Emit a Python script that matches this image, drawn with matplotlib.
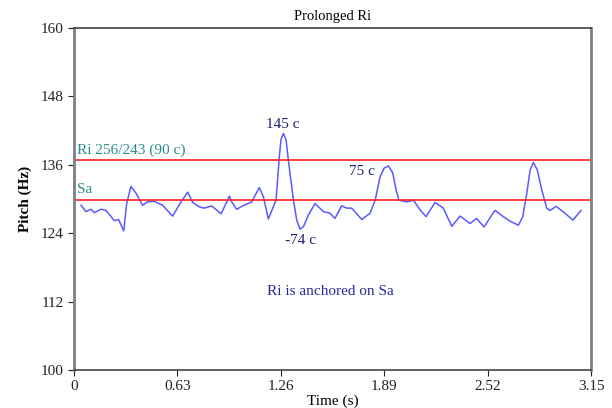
import matplotlib
matplotlib.use("Agg")
import matplotlib.pyplot as plt

# pitch contour (time in s, pitch in Hz)
time_s = [0.043, 0.073, 0.104, 0.124, 0.165, 0.195, 0.246, 0.272, 0.303, 0.321,
          0.347, 0.378, 0.418, 0.449, 0.489, 0.54, 0.601, 0.652, 0.693, 0.723,
          0.764, 0.794, 0.839, 0.896, 0.926, 0.947, 0.961, 0.991, 1.028, 1.083,
          1.129, 1.154, 1.184, 1.231, 1.251, 1.261, 1.276, 1.292, 1.306, 1.337,
          1.357, 1.377, 1.399, 1.428, 1.469, 1.519, 1.56, 1.59, 1.631, 1.662,
          1.692, 1.753, 1.804, 1.835, 1.865, 1.889, 1.915, 1.942, 1.962, 1.98,
          2.027, 2.068, 2.108, 2.145, 2.2, 2.25, 2.302, 2.352, 2.413, 2.453,
          2.498, 2.565, 2.616, 2.657, 2.708, 2.734, 2.759, 2.779, 2.799, 2.823,
          2.85, 2.88, 2.9, 2.938, 2.983, 3.04, 3.089]
pitch_hz = [128.9, 127.8, 128.2, 127.6, 128.2, 128.0, 126.2, 126.4, 124.4, 129.2,
            132.2, 131.0, 128.9, 129.5, 129.6, 128.9, 127.0, 129.5, 131.2, 129.4,
            128.6, 128.4, 128.8, 127.4, 129.2, 130.5, 129.5, 128.2, 128.8, 129.5,
            132.0, 130.4, 126.5, 129.8, 137.4, 140.4, 141.5, 140.4, 136.8, 129.8,
            126.3, 124.7, 125.2, 127.2, 129.2, 127.8, 127.5, 126.6, 128.8, 128.4,
            128.4, 126.4, 127.5, 129.8, 133.9, 135.4, 135.8, 134.6, 131.6, 129.8,
            129.5, 129.8, 128.1, 126.9, 129.4, 128.4, 125.2, 127.0, 125.7, 126.6,
            125.1, 128.0, 126.9, 126.1, 125.4, 126.9, 131.0, 135.1, 136.4, 135.1,
            131.6, 128.4, 128.0, 128.7, 127.7, 126.3, 128.0]

sa_hz = 129.9
ri_hz = sa_hz * 256 / 243

x_ticks = [0, 0.63, 1.26, 1.89, 2.52, 3.15]
x_labels = ["0", "0.63", "1.26", "1.89", "2.52", "3.15"]
y_ticks = [100, 112, 124, 136, 148, 160]

plt.rcParams["font.family"] = ["Liberation Serif", "DejaVu Serif"]

fig = plt.figure(figsize=(6.12, 4.08), dpi=100)
ax = fig.add_axes([0.1209, 0.0931, 0.8448, 0.8383])

ax.plot(time_s, pitch_hz, color="#5a5aff", lw=1.1, solid_joinstyle="round")
ax.axhline(ri_hz, color="#ff2020", lw=1.2)
ax.axhline(sa_hz, color="#ff2020", lw=1.2)

ax.set_xlim(0, 3.15)
ax.set_ylim(100, 160)
ax.set_xticks(x_ticks)
ax.set_xticklabels(x_labels)
ax.set_yticks(y_ticks)
ax.tick_params(direction="out", length=4, labelsize=11, colors="#222222")

for side in ["left", "right"]:
    ax.spines[side].set_color("#808080")
    ax.spines[side].set_linewidth(2)
for side in ["top", "bottom"]:
    ax.spines[side].set_color("#444444")
    ax.spines[side].set_linewidth(1.2)

ax.set_title("Prolonged Ri", fontsize=10.5, pad=6)
ax.set_xlabel("Time (s)", fontsize=11, labelpad=1)
ax.set_ylabel("Pitch (Hz)", fontsize=11, fontweight="bold", labelpad=6)

teal = "#2a8c8c"
navy = "#20206a"
ax.text(0.02, ri_hz + 0.6, "Ri 256/243 (90 c)", color=teal, fontsize=11, va="bottom")
ax.text(0.02, sa_hz + 0.6, "Sa", color=teal, fontsize=11, va="bottom")
ax.text(1.274, 143.0, "145 c", color=navy, fontsize=11, ha="center", va="center")
ax.text(1.38, 122.8, "-74 c", color=navy, fontsize=11, ha="center", va="center")
ax.text(1.755, 134.9, "75 c", color=navy, fontsize=11, ha="center", va="center")
ax.text(1.56, 113.7, "Ri is anchored on Sa", color="#2a2aa0", fontsize=11,
        ha="center", va="center")

fig.savefig("out.png", dpi=100)
